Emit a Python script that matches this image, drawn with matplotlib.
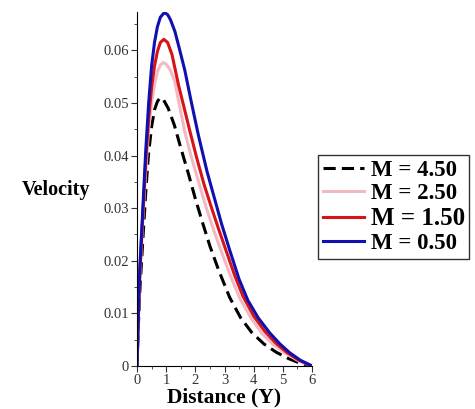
import matplotlib
matplotlib.use("Agg")
import matplotlib.pyplot as plt
from matplotlib.ticker import MultipleLocator, FuncFormatter

x_m450 = [0, 0.05, 0.1, 0.2, 0.3, 0.39, 0.5, 0.6, 0.7, 0.79, 0.9, 1.07, 1.28, 1.5, 1.76, 2.0, 2.25, 2.5, 2.8, 3.18, 3.55, 3.93, 4.35, 4.78, 5.2, 5.6, 6.0]
v_m450 = [0, 0.008, 0.0145, 0.024, 0.033, 0.040, 0.0455, 0.0487, 0.0503, 0.051, 0.0507, 0.049, 0.0458, 0.0415, 0.0366, 0.0318, 0.0272, 0.0228, 0.0182, 0.0130, 0.0092, 0.0064, 0.0042, 0.0026, 0.0014, 0.0005, 0]

x_m250 = [0, 0.05, 0.1, 0.2, 0.3, 0.4, 0.5, 0.6, 0.7, 0.8, 0.9, 1.0, 1.15, 1.3, 1.45, 1.64, 1.85, 2.1, 2.38, 2.65, 2.93, 3.2, 3.53, 3.9, 4.27, 4.65, 5.07, 5.5, 6.0]
v_m250 = [0, 0.0095, 0.017, 0.028, 0.037, 0.045, 0.050, 0.0535, 0.056, 0.0572, 0.0577, 0.0574, 0.0562, 0.054, 0.0497, 0.0445, 0.040, 0.0352, 0.0300, 0.0255, 0.0212, 0.0172, 0.0128, 0.0092, 0.0063, 0.0042, 0.0025, 0.0011, 0]

x_m150 = [0, 0.05, 0.1, 0.2, 0.3, 0.4, 0.5, 0.6, 0.7, 0.8, 0.92, 1.05, 1.2, 1.42, 1.62, 1.82, 2.05, 2.3, 2.56, 2.8, 3.05, 3.35, 3.63, 4.0, 4.38, 4.75, 5.13, 5.55, 6.0]
v_m150 = [0, 0.010, 0.018, 0.029, 0.039, 0.047, 0.053, 0.057, 0.0598, 0.0615, 0.0621, 0.0615, 0.0592, 0.0535, 0.049, 0.0445, 0.0395, 0.0345, 0.0300, 0.0260, 0.0220, 0.0172, 0.0133, 0.0095, 0.0066, 0.0044, 0.0026, 0.0011, 0]

x_m050 = [0, 0.05, 0.1, 0.2, 0.3, 0.4, 0.5, 0.6, 0.7, 0.8, 0.94, 1.05, 1.15, 1.3, 1.45, 1.64, 1.85, 2.1, 2.4, 2.67, 2.9, 3.18, 3.5, 3.8, 4.15, 4.55, 4.9, 5.24, 5.6, 6.0]
v_m050 = [0, 0.011, 0.019, 0.030, 0.041, 0.050, 0.057, 0.0615, 0.0645, 0.0663, 0.0672, 0.0668, 0.0658, 0.0636, 0.0604, 0.0562, 0.0505, 0.044, 0.037, 0.0316, 0.027, 0.022, 0.0165, 0.0125, 0.0092, 0.0063, 0.0042, 0.0025, 0.0011, 0]

labels = ["M = 4.50", "M = 2.50", "M = 1.50", "M = 0.50"]

plt.rcParams["font.family"] = "Liberation Serif"

fig = plt.figure(figsize=(4.75, 4.09), dpi=100)
ax = fig.add_axes([137 / 475, 1 - 366 / 409, 175 / 475, 354 / 409])

h1, = ax.plot(x_m450, v_m450, color="black", lw=2.2, linestyle=(0, (4, 2)))
h2, = ax.plot(x_m250, v_m250, color="#f4b8c0", lw=2.2)
h3, = ax.plot(x_m150, v_m150, color="#d61418", lw=2.2)
h4, = ax.plot(x_m050, v_m050, color="#1010b0", lw=2.2)

ax.set_xlim(0, 6)
ax.set_ylim(0, 0.0673)
ax.spines["top"].set_visible(False)
ax.spines["right"].set_visible(False)
ax.xaxis.set_major_locator(MultipleLocator(1))
ax.xaxis.set_minor_locator(MultipleLocator(0.5))
ax.yaxis.set_major_locator(MultipleLocator(0.01))
ax.yaxis.set_minor_locator(MultipleLocator(0.005))
ax.yaxis.set_major_formatter(FuncFormatter(lambda v, p: "0" if abs(v) < 1e-9 else f"{v:.2f}"))
ax.tick_params(which="major", length=4, labelsize=10.5, colors="#333333", pad=2)
ax.tick_params(which="minor", length=2.5, colors="#333333")

fig.text(224 / 475, 1 - 397 / 409, "Distance (Y)", ha="center", va="center",
         fontsize=15.5, fontweight="bold")
fig.text(56 / 475, 1 - 190 / 409, "Velocity", ha="center", va="center",
         fontsize=14.5, fontweight="bold")

leg = fig.legend([h1, h2, h3, h4], labels, loc="upper left",
                 bbox_to_anchor=(318 / 475, 1 - 155 / 409),
                 prop={"weight": "bold", "size": 16.5}, handlelength=1.8,
                 handletextpad=0.3, labelspacing=0.12, borderpad=0.2,
                 borderaxespad=0, fancybox=False, frameon=True)
leg.get_frame().set_edgecolor("black")
leg.get_frame().set_linewidth(1.0)
leg.get_texts()[2].set_fontsize(18)

fig.savefig("out.png", dpi=100)
